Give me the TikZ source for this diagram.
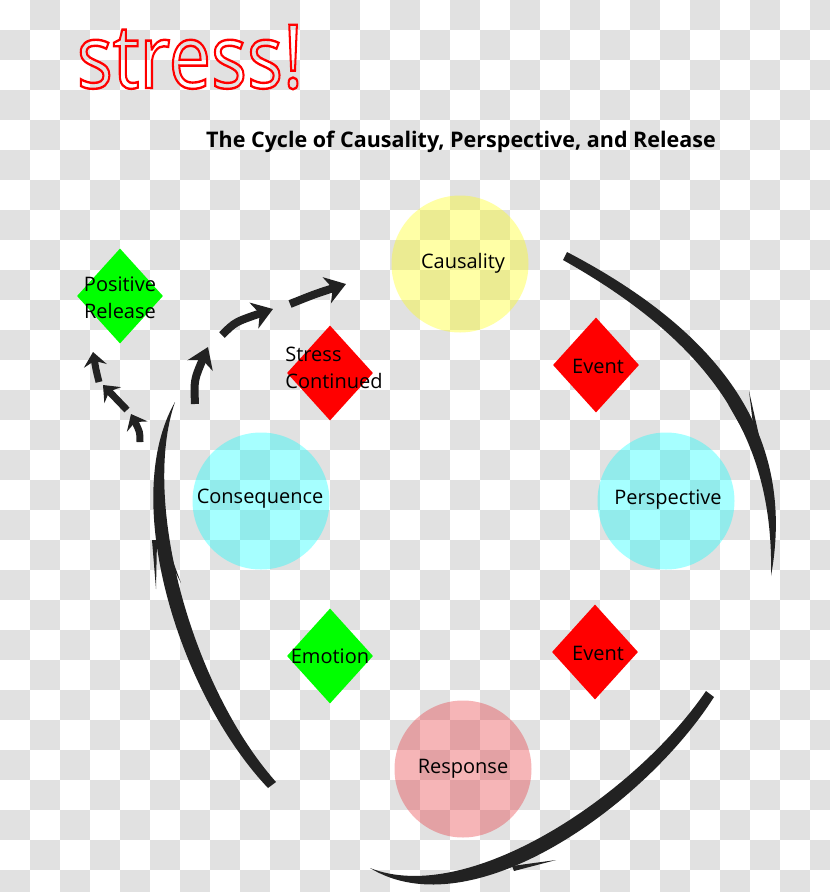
\documentclass[tikz,border=0pt]{standalone}
\usepackage{fontspec}
\setmainfont{Open Sans}
\usetikzlibrary{arrows.meta, shapes.geometric}
\definecolor{ink}{HTML}{222222}
\definecolor{chk}{HTML}{E1E1E1}
\definecolor{rosy}{rgb}{0.91,0.17,0.2}
\definecolor{aqua}{rgb}{0,1,1}
\definecolor{lemon}{rgb}{1,1,0}
\definecolor{lime}{rgb}{0,1,0}
\definecolor{scarlet}{rgb}{1,0,0}

\begin{document}
\begin{tikzpicture}[
    x=1pt, y=-1pt,
    every node/.style={font=\fontsize{20}{27}\selectfont, text=black},
    bubble/.style={circle, minimum size=137pt, inner sep=0pt, fill opacity=0.35, text opacity=1},
    gem/.style={diamond, minimum width=86pt, minimum height=95pt, inner sep=0pt},
    hop/.style={draw=ink, line width=7pt, -{Stealth[length=14pt, width=23pt, inset=5pt]}},
    bighop/.style={draw=ink, line width=8pt, -{Stealth[length=20pt, width=27pt, inset=6pt]}},
]
\useasboundingbox (0,0) rectangle (830,892);
\clip (0,0) rectangle (830,892);

% Checkered backdrop
\fill[white] (0,0) rectangle (830,892);
\foreach \r in {0,...,29}{
  \foreach \c in {0,...,27}{
    \pgfmathtruncatemacro\odd{mod(\r+\c,2)}
    \ifnum\odd=1 \fill[chk] (\c*30,\r*30) rectangle ++(30,30); \fi
  }
}

% Heading (outlined letters for the sketchy look)
\node[anchor=base, text=scarlet, xscale=0.92, yscale=1.08, font=\fontsize{82}{82}\selectfont] (logo) at (190,88)
    {\special{pdf:code 1 Tr 2.2 w}stress!\special{pdf:code 0 Tr}};
\node[anchor=base, font=\fontsize{21.5}{26}\selectfont\bfseries] (title) at (461,147)
    {The Cycle of Causality, Perspective, and Release};

% Stages
\node[bubble, fill=lemon] (caus) at (460,264) {};
\node[bubble, fill=aqua] (persp) at (666,501) {};
\node[bubble, fill=rosy] (resp) at (463,769) {};
\node[bubble, fill=aqua] (conseq) at (261,501) {};
\node[anchor=base] at (463,268) {Causality};
\node[anchor=base] at (668,504) {Perspective};
\node[anchor=base] at (463,773) {Response};
\node[anchor=base] at (260,503) {Consequence};

% Diamonds between stages
\node[gem, fill=scarlet] (ev1) at (596,365) {};
\node[gem, fill=scarlet] (ev2) at (595,652) {};
\node[gem, fill=lime] (emo) at (330,656) {};
\node[gem, fill=scarlet] (cont) at (330,373) {};
\node[gem, fill=lime] (rel) at (120,296) {};
\node[anchor=base] at (598,373) {Event};
\node[anchor=base] at (598,660) {Event};
\node[anchor=base] at (330,663) {Emotion};
\node[align=left] at (334,368) {Stress\\Continued};
\node[align=center] at (120,298) {Positive\\Release};

% Brush strokes round the cycle
\fill[ink] (567,252) .. controls (724,334) and (796,438) .. (771,576)
    .. controls (774,442) and (716,346) .. (563,260) -- cycle;
\fill[ink] (728,404) -- (759,444) -- (753,448) -- cycle;
\fill[ink] (749,391) -- (760,440) -- (755,441) -- cycle;

\fill[ink] (714,697) .. controls (645,805) and (472,930) .. (370,868)
    .. controls (468,907) and (635,795) .. (706,691) -- cycle;
\fill[ink] (543,837) -- (503,861) -- (509,864) -- cycle;
\fill[ink] (556,860) -- (512,866) -- (514,871) -- cycle;

\fill[ink] (268,788) .. controls (179,694) and (119,500) .. (175,402)
    .. controls (141,500) and (191,686) .. (276,782) -- cycle;
\fill[ink] (152,540) -- (156,589) -- (157,540) -- cycle;
\fill[ink] (162,545) -- (181,583) -- (167,545) -- cycle;

% Way out: towards release
\coordinate (a1s) at (140,442); \coordinate (a1e) at (131,414);
\coordinate (a2s) at (127,410); \coordinate (a2e) at (103,385);
\coordinate (a3s) at (99,382);  \coordinate (a3e) at (93,352);
\draw[hop] (a1s) .. controls (140,432) .. (a1e);
\draw[hop] (a2s) -- (a2e);
\draw[hop] (a3s) .. controls (96,370) .. (a3e);

% Way back: towards causality
\coordinate (b1s) at (195,404); \coordinate (b1e) at (208,347);
\coordinate (b2s) at (222,335); \coordinate (b2e) at (273,309);
\coordinate (b3s) at (290,304); \coordinate (b3e) at (346,284);
\draw[bighop] (b1s) .. controls (194,380) .. (b1e);
\draw[bighop] (b2s) .. controls (235,322) .. (b2e);
\draw[bighop] (b3s) .. controls (315,294) .. (b3e);

\end{tikzpicture}
\end{document}
